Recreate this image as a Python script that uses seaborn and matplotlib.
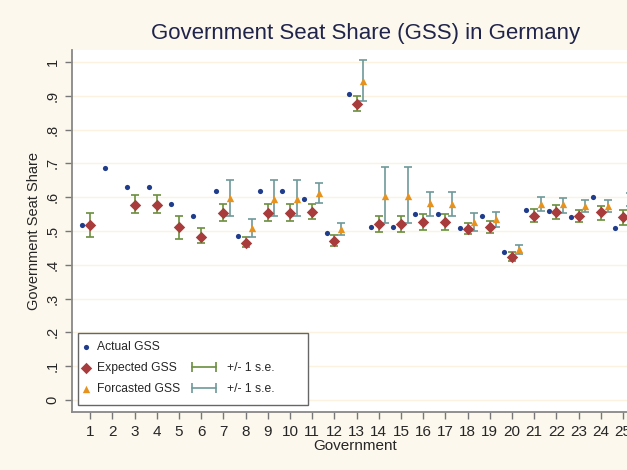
import numpy as np
import pandas as pd
import seaborn as sns
import matplotlib.pyplot as plt
from matplotlib.lines import Line2D
from matplotlib.patches import Rectangle
from matplotlib.legend_handler import HandlerLine2D

nan = np.nan
governments = list(range(1, 26))
actual = [0.518, 0.685, 0.629, 0.629, 0.579, 0.544, 0.619, 0.485, 0.619, 0.619,
          0.594, 0.495, 0.905, 0.513, 0.513, 0.549, 0.549, 0.510, 0.544, 0.439,
          0.562, 0.559, 0.542, 0.602, 0.508]
expected = [0.518, nan, 0.577, 0.577, 0.511, 0.483, 0.554, 0.465, 0.554, 0.554,
            0.557, 0.470, 0.876, 0.520, 0.520, 0.528, 0.528, 0.506, 0.511, 0.422,
            0.545, 0.557, 0.544, 0.555, 0.540]
expected_lo = [0.483, nan, 0.552, 0.552, 0.477, 0.464, 0.530, 0.454, 0.530, 0.530,
               0.535, 0.456, 0.855, 0.496, 0.496, 0.503, 0.503, 0.491, 0.493, 0.412,
               0.528, 0.535, 0.527, 0.533, 0.518]
expected_hi = [0.554, nan, 0.607, 0.607, 0.544, 0.510, 0.580, 0.481, 0.580, 0.580,
               0.580, 0.488, 0.900, 0.544, 0.544, 0.549, 0.549, 0.523, 0.530, 0.437,
               0.564, 0.577, 0.562, 0.575, 0.562]
forecast = [nan, nan, nan, nan, nan, nan, 0.599, 0.508, 0.596, 0.596,
            0.612, 0.505, 0.945, 0.604, 0.604, 0.582, 0.580, 0.526, 0.535, 0.446,
            0.580, 0.579, 0.575, 0.575, 0.594]
forecast_lo = [nan, nan, nan, nan, nan, nan, 0.544, 0.481, 0.545, 0.545,
               0.584, 0.488, 0.886, 0.523, 0.523, 0.545, 0.545, 0.500, 0.513, 0.432,
               0.560, 0.554, 0.557, 0.557, 0.575]
forecast_hi = [nan, nan, nan, nan, nan, nan, 0.651, 0.535, 0.651, 0.651,
               0.643, 0.523, 1.006, 0.688, 0.688, 0.616, 0.616, 0.552, 0.557, 0.459,
               0.602, 0.599, 0.592, 0.592, 0.612]

df = pd.DataFrame({"gov": governments, "actual": actual, "expected": expected,
                   "exp_lo": expected_lo, "exp_hi": expected_hi, "forecast": forecast,
                   "fc_lo": forecast_lo, "fc_hi": forecast_hi})

c_actual = "#1f3d8c"
c_expected = "#a83c3c"
c_forecast = "#e8921e"
c_err_exp = "#6b8f3e"
c_err_fc = "#6e9a9a"
bg = "#fcf8ee"

sns.set_style("white")
plt.rcParams["font.family"] = ["Liberation Sans", "DejaVu Sans"]

fig = plt.figure(figsize=(6.27, 4.70), dpi=100, facecolor=bg)
ax = fig.add_axes([0.115, 0.1234, 0.9035, 0.7702])
ax.set_facecolor("white")

# gridlines
for v in np.arange(0, 1.01, 0.1):
    ax.axhline(v, color="#fbf3df", lw=1.0, zorder=0)

# error bars
ax.errorbar(df["gov"], df["expected"],
            yerr=[df["expected"] - df["exp_lo"], df["exp_hi"] - df["expected"]],
            fmt="none", ecolor=c_err_exp, elinewidth=1.2, capsize=3, capthick=1.2, zorder=2)
ax.errorbar(df["gov"] + 0.3, df["forecast"],
            yerr=[df["forecast"] - df["fc_lo"], df["fc_hi"] - df["forecast"]],
            fmt="none", ecolor=c_err_fc, elinewidth=1.2, capsize=3, capthick=1.2, zorder=2)

# points
sns.scatterplot(x=df["gov"] - 0.35, y=df["actual"], ax=ax, color=c_actual,
                marker="o", s=14, linewidth=0, zorder=3)
sns.scatterplot(x=df["gov"], y=df["expected"], ax=ax, color=c_expected,
                marker="D", s=34, linewidth=0, zorder=3)
sns.scatterplot(x=df["gov"] + 0.3, y=df["forecast"], ax=ax, color=c_forecast,
                marker="^", s=28, linewidth=0, zorder=3)

ax.set_xlim(0.19, 25.7)
ax.set_ylim(-0.0355, 1.0355)
ax.set_xticks(governments)
ax.set_xticklabels([str(g) for g in governments], fontsize=11)
yt = np.round(np.arange(0, 1.01, 0.1), 1)
ax.set_yticks(yt)
ax.set_yticklabels(["0", ".1", ".2", ".3", ".4", ".5", ".6", ".7", ".8", ".9", "1"],
                   rotation=90, va="center", fontsize=10.5)
ax.tick_params(axis="both", direction="out", length=5, width=1, color="#777777",
               bottom=True, left=True, pad=4)
for s in ["top", "right"]:
    ax.spines[s].set_visible(False)
for s in ["left", "bottom"]:
    ax.spines[s].set_color("#888888")
    ax.spines[s].set_linewidth(1.3)

ax.set_xlabel("Government", fontsize=11, labelpad=0)
ax.set_ylabel("Government Seat Share", fontsize=10.5, labelpad=3)
fig.text(0.583, 0.929, "Government Seat Share (GSS) in Germany", fontsize=16,
         color="#20244a", ha="center", va="center")

# legend: one frame, two frameless legends inside it
ax.add_patch(Rectangle((0.0106, 0.0193), 0.406, 0.199, transform=ax.transAxes,
                       facecolor="white", edgecolor="#666666", lw=1.0, zorder=4))
h_act = ax.collections[-3]
h_exp = ax.collections[-2]
h_fc = ax.collections[-1]
leg1 = ax.legend([h_act, h_exp, h_fc], ["Actual GSS", "Expected GSS", "Forcasted GSS"],
                 loc="upper left", bbox_to_anchor=(-0.008, 0.232), fontsize=8.7,
                 frameon=False, scatterpoints=1, handlelength=0.8, handletextpad=0.5,
                 labelspacing=0.75, borderpad=0.6)
leg1.set_zorder(5)
ax.add_artist(leg1)

blank = Line2D([], [], alpha=0)
h_eexp = Line2D([], [], color=c_err_exp, lw=1.2, marker="|", markersize=7, mew=1.2)
h_efc = Line2D([], [], color=c_err_fc, lw=1.2, marker="|", markersize=7, mew=1.2)
leg2 = ax.legend([blank, h_eexp, h_efc], ["", "+/- 1 s.e.", "+/- 1 s.e."],
                 loc="upper left", bbox_to_anchor=(0.181, 0.232), fontsize=8.7,
                 frameon=False, handler_map={Line2D: HandlerLine2D(numpoints=2)},
                 handlelength=2.6, handletextpad=0.6, labelspacing=0.75, borderpad=0.6)
leg2.set_zorder(5)

fig.savefig("out.png", dpi=100, facecolor=bg)
